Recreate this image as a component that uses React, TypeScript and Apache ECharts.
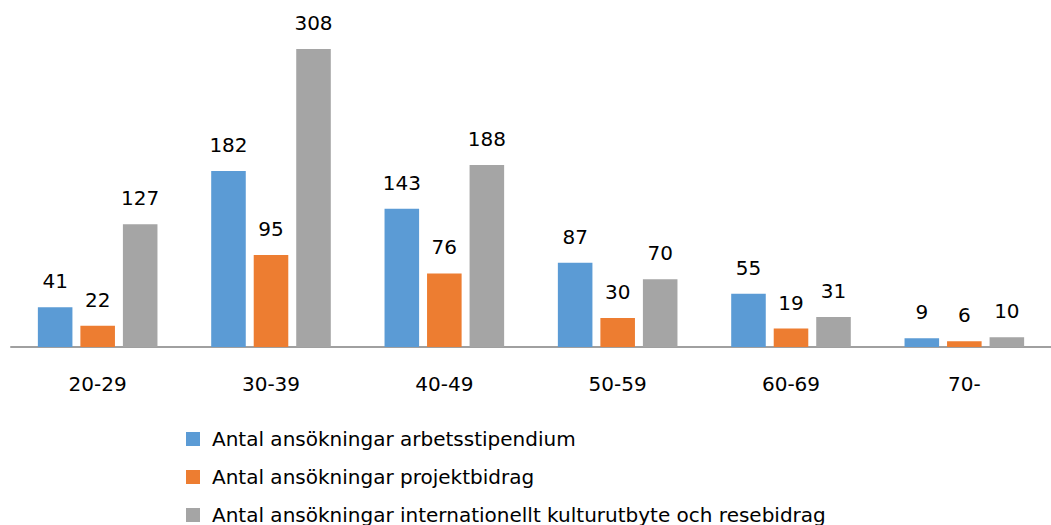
import React, { useEffect, useRef } from "react";
import * as echarts from "echarts";

const categories = ["20-29", "30-39", "40-49", "50-59", "60-69", "70-"];
const seriesNames = [
  "Antal ansökningar arbetsstipendium",
  "Antal ansökningar projektbidrag",
  "Antal ansökningar internationellt kulturutbyte och resebidrag",
];
const arbetsstipendium = [41, 182, 143, 87, 55, 9];
const projektbidrag = [22, 95, 76, 30, 19, 6];
const kulturutbyte = [127, 308, 188, 70, 31, 10];
const colors = ["#5B9BD5", "#ED7D31", "#A5A5A5"];

const FONT = "DejaVu Sans";

export default function App() {
  const ref = useRef<HTMLDivElement>(null);
  useEffect(() => {
    if (!ref.current) return;
    const chart = echarts.init(ref.current, undefined, { renderer: "svg" });
    const values = [arbetsstipendium, projektbidrag, kulturutbyte];
    chart.setOption({
      animation: false,
      color: colors,
      grid: { left: 11, right: -6, top: 8.4, height: 338.6, containLabel: false },
      xAxis: {
        type: "category",
        data: categories,
        axisLine: { lineStyle: { color: "#A0A0A0", width: 2 } },
        axisTick: { show: false },
        axisLabel: { color: "#000", fontFamily: FONT, fontSize: 20, margin: 27 },
      },
      yAxis: {
        type: "value",
        min: 0,
        max: 350,
        show: false,
        splitLine: { show: false },
      },
      legend: {
        orient: "vertical",
        left: 186,
        top: 429,
        width: 860,
        height: 120,
        padding: 0,
        itemWidth: 14,
        itemHeight: 14,
        itemGap: 18,
        icon: "rect",
        textStyle: {
          color: "#000",
          fontFamily: FONT,
          fontSize: 20,
          lineHeight: 20,
          padding: [0, 0, 0, 7],
        },
        data: seriesNames,
      },
      series: seriesNames.map((name, i) => ({
        name,
        type: "bar",
        data: values[i],
        barGap: "23%",
        barCategoryGap: "31%",
        label: {
          show: true,
          position: "top",
          distance: 16,
          color: "#000",
          fontFamily: FONT,
          fontSize: 20,
        },
      })),
    });
    return () => chart.dispose();
  }, []);
  return <div ref={ref} style={{ width: 1051, height: 525, position: "absolute", left: 0, top: 0 }} />;
}
